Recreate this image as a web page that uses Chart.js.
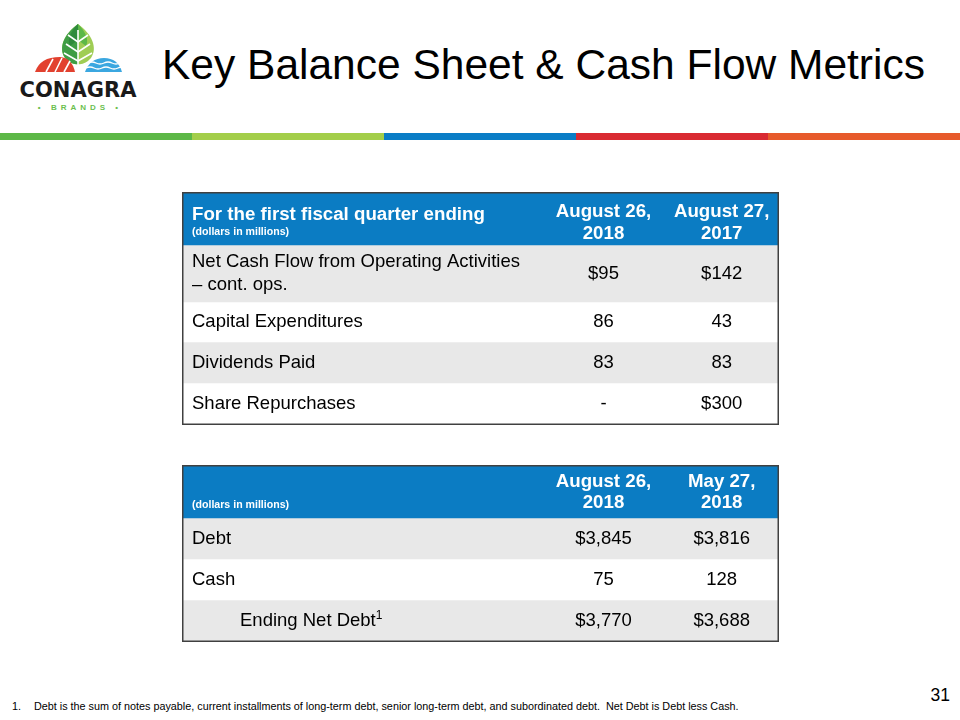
<!DOCTYPE html>
<html>
<head>
<meta charset="utf-8">
<title>Key Balance Sheet &amp; Cash Flow Metrics</title>
<script src="https://cdn.jsdelivr.net/npm/chart.js@4"></script>
<style>
  body { margin: 0; width: 960px; height: 720px; background: #fff; position: relative; overflow: hidden;
         font-family: "Liberation Sans", Arial, sans-serif; }
  #title { position: absolute; left: 162px; top: 44px; font-size: 42.5px; line-height: 42.5px; color: #000; white-space: nowrap; }
  #logo { position: absolute; left: 0; top: 0; }
  .stripe { position: absolute; top: 133px; height: 7px; width: 192px; }
  canvas { position: absolute; }
  #t1 { left: 182px; top: 192px; }
  #t2 { left: 182px; top: 465px; }
  #foot { position: absolute; left: 12px; top: 700px; font-size: 10.8px; color: #000; white-space: nowrap; }
  #foot span { position: absolute; left: 22px; }
  #page { position: absolute; right: 10px; top: 685px; font-size: 17.5px; color: #000; }
</style>
</head>
<body>
<svg id="logo" width="160" height="125" viewBox="0 0 160 125">
  <!-- leaf -->
  <path d="M78,24 C92,34 98,48 91,58 Q85,65 78,64 Q71,65 65,58 C58,48 64,34 78,24 Z" fill="#9fcd55"/>
  <path d="M78,24 C64,34 58,48 65,58 Q71,65 78,64 Z" fill="#3f9d45"/>
  <path d="M78,24 C70,32 67,40 70,46 L78,40 Z" fill="#2f8a3c"/>
  <path d="M78,24 C86,32 89,40 86,46 L78,40 Z" fill="#5cb848"/>
  <g stroke="#fff" stroke-width="1.6" fill="none">
    <line x1="78" y1="30" x2="78" y2="64"/>
    <polyline points="66,44 78,52 90,44"/>
    <polyline points="68,35 78,42 88,35"/>
    <polyline points="64,53 78,61 92,53"/>
  </g>
  <!-- red field -->
  <path d="M35,72 Q40,57 60,57 Q72,58 75,72 Z" fill="#e2412f"/>
  <g stroke="#fff" stroke-width="1.6">
    <line x1="46" y1="72" x2="53" y2="59"/>
    <line x1="55" y1="72" x2="62" y2="58"/>
    <line x1="64" y1="72" x2="70" y2="61"/>
  </g>
  <!-- water -->
  <path d="M85,72 Q90,58 104,58 Q118,58 122,72 Z" fill="#3ba7e0"/>
  <g stroke="#fff" stroke-width="1.3" fill="none">
    <path d="M88,63 q4,-2 8,0 t8,0 t8,0 t8,0"/>
    <path d="M86,68 q4,-2 8,0 t8,0 t8,0 t8,0 t8,0"/>
  </g>
  <text x="78" y="97" text-anchor="middle" font-family="DejaVu Sans, sans-serif" font-weight="bold" font-size="21"
        textLength="117" lengthAdjust="spacingAndGlyphs" fill="#1a1a1a">CONAGRA</text>
  <text x="80" y="110" text-anchor="middle" font-family="Liberation Sans, sans-serif" font-weight="bold" font-size="8"
        letter-spacing="4" fill="#6cbf4f">• BRANDS •</text>
</svg>

<div id="title">Key Balance Sheet &amp; Cash Flow Metrics</div>

<div class="stripe" style="left:0;background:#5db847"></div>
<div class="stripe" style="left:192px;background:#a3ce4a"></div>
<div class="stripe" style="left:384px;background:#0a7dc6"></div>
<div class="stripe" style="left:576px;background:#d92a32"></div>
<div class="stripe" style="left:768px;background:#e75a2b"></div>

<canvas id="t1" width="597" height="233"></canvas>
<canvas id="t2" width="597" height="177"></canvas>

<div id="foot">1.<span>Debt is the sum of notes payable, current installments of long-term debt, senior long-term debt, and subordinated debt.&nbsp; Net Debt is Debt less Cash.</span></div>
<div id="page">31</div>

<script>
// table 1: first fiscal quarter
const cashTitle = 'For the first fiscal quarter ending';
const cashColumns = ['August 26,\n2018', 'August 27,\n2017'];
const cashRows = ['Net Cash Flow from Operating Activities\n– cont. ops.', 'Capital Expenditures', 'Dividends Paid', 'Share Repurchases'];
const cash2018 = ['$95', '86', '83', '-'];
const cash2017 = ['$142', '43', '83', '$300'];

// table 2: net debt
const debtColumns = ['August 26,\n2018', 'May 27,\n2018'];
const debtRows = ['Debt', 'Cash', 'Ending Net Debt'];
const debtAug = ['$3,845', '75', '$3,770'];
const debtMay = ['$3,816', '128', '$3,688'];

// layout (row heights in px, header first)
const cashHeights = [53, 57, 40, 41, 42];
const debtHeights = [53, 41, 41, 42];
const HEADER_BLUE = '#0b7cc3';
const GRAY = '#e8e8e8';
const BODY_FONT = '18.5px "Liberation Sans", Arial';
const HEAD_FONT = 'bold 18.7px "Liberation Sans", Arial';

function drawLines(ctx, text, x, mid, gap) {
    const lines = text.split('\n');
    const start = mid - gap * (lines.length - 1) / 2;
    lines.forEach((l, i) => ctx.fillText(l, x, start + i * gap));
}

function tablePlugin(cfg) {
    return {
        id: 'tableText',
        afterDraw(chart) {
            const ctx = chart.ctx, area = chart.chartArea;
            const w = area.right - area.left;
            const c1 = area.left + w * 0.706, c2 = area.left + w * 0.904;
            ctx.save();
            ctx.textBaseline = 'middle';
            chart.data.datasets.forEach((ds, i) => {
                const bar = chart.getDatasetMeta(i).data[0];
                const top = Math.min(bar.y, bar.base), bot = Math.max(bar.y, bar.base);
                const mid = (top + bot) / 2;
                if (i === 0) {
                    ctx.fillStyle = '#fff';
                    ctx.font = HEAD_FONT;
                    if (cfg.title) {
                        ctx.textAlign = 'left';
                        ctx.fillText(cfg.title, area.left + 10, mid - 4);
                    }
                    ctx.font = 'bold 10.6px "Liberation Sans", Arial';
                    ctx.textAlign = 'left';
                    ctx.fillText('(dollars in millions)', area.left + 10, mid + cfg.unitsOffset);
                    ctx.font = HEAD_FONT;
                    ctx.textAlign = 'center';
                    drawLines(ctx, cfg.columns[0], c1, mid + cfg.headShift, 21.5);
                    drawLines(ctx, cfg.columns[1], c2, mid + cfg.headShift, 21.5);
                    return;
                }
                const r = i - 1;
                ctx.fillStyle = '#000';
                ctx.font = BODY_FONT;
                ctx.textAlign = 'left';
                const lx = area.left + (cfg.indent[r] || 10);
                drawLines(ctx, cfg.rows[r], lx, mid, 22.5);
                if (cfg.footnote === r) {
                    const tw = ctx.measureText(cfg.rows[r]).width;
                    ctx.font = '12px "Liberation Sans", Arial';
                    ctx.fillText('1', lx + tw, mid - 5);
                    ctx.font = BODY_FONT;
                }
                ctx.textAlign = 'center';
                ctx.fillText(cfg.col1[r], c1, mid);
                ctx.fillText(cfg.col2[r], c2, mid);
            });
            // outer border
            ctx.strokeStyle = '#404040';
            ctx.lineWidth = 1.5;
            ctx.strokeRect(area.left + 0.75, area.top + 0.75, w - 1.5, area.bottom - area.top - 1.5);
            ctx.restore();
        }
    };
}

function makeTable(id, heights, fills, cfg) {
    const total = heights.reduce((a, b) => a + b, 0);
    return new Chart(document.getElementById(id), {
        type: 'bar',
        data: {
            labels: [''],
            datasets: heights.map((h, i) => ({
                data: [h],
                backgroundColor: fills[i],
                borderWidth: 0,
                barPercentage: 1,
                categoryPercentage: 1
            }))
        },
        options: {
            responsive: false,
            animation: false,
            events: [],
            layout: { padding: 0 },
            plugins: { legend: { display: false }, tooltip: { enabled: false } },
            scales: {
                x: { display: false, stacked: true },
                y: { display: false, stacked: true, reverse: true, min: 0, max: total }
            }
        },
        plugins: [tablePlugin(cfg)]
    });
}

makeTable('t1', cashHeights, [HEADER_BLUE, GRAY, '#fff', GRAY, '#fff'], {
    title: cashTitle, columns: cashColumns, rows: cashRows, col1: cash2018, col2: cash2017,
    unitsOffset: 14, headShift: 4.5, indent: [], footnote: -1
});
makeTable('t2', debtHeights, [HEADER_BLUE, GRAY, '#fff', GRAY], {
    title: null, columns: debtColumns, rows: debtRows, col1: debtAug, col2: debtMay,
    unitsOffset: 13.5, headShift: 1, indent: [10, 10, 58], footnote: 2
});
</script>
</body>
</html>
